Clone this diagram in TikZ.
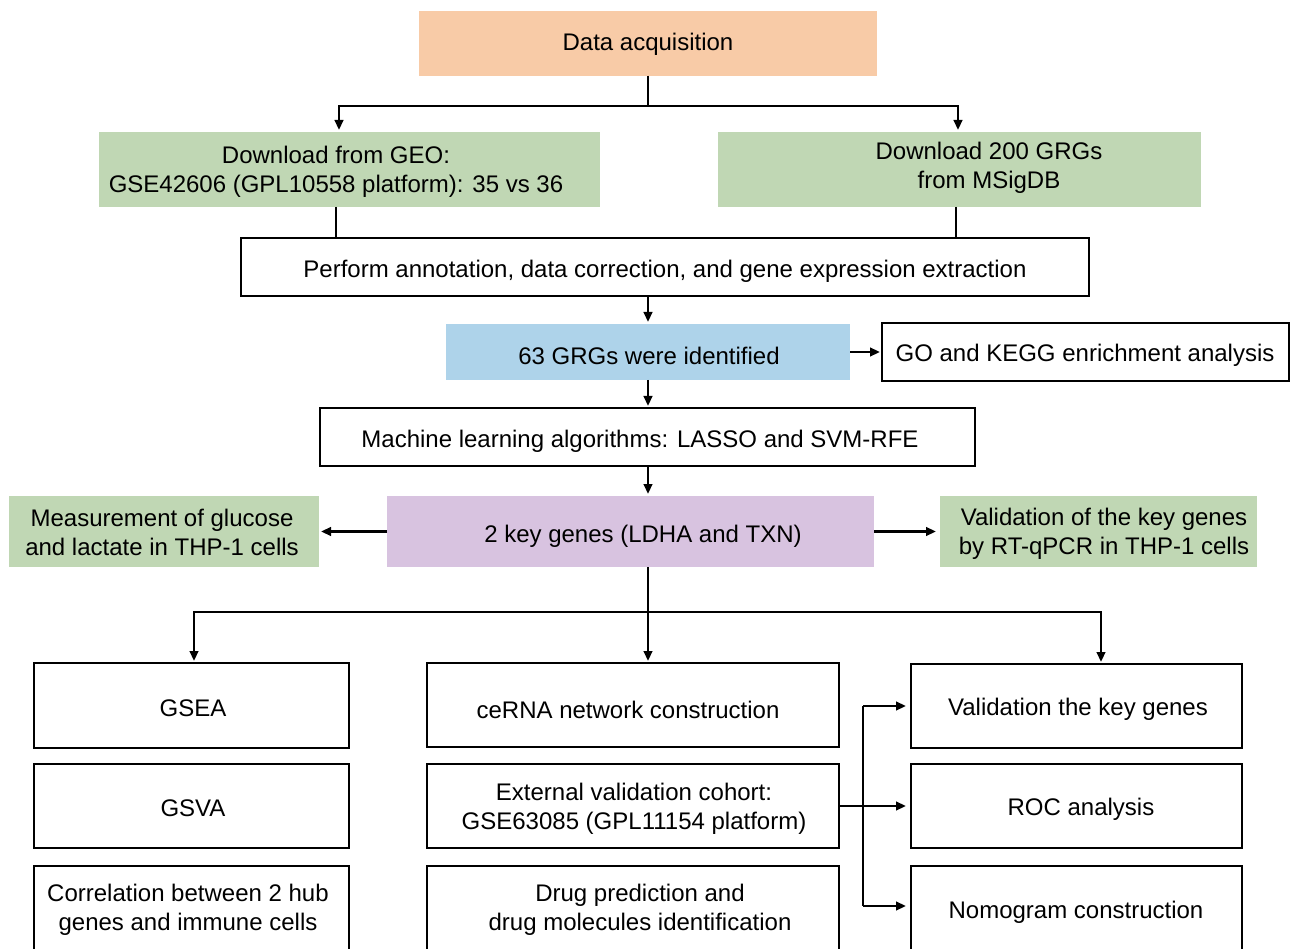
\documentclass[tikz,border=0pt]{standalone}
\usepackage{fontspec}
\setmainfont{Liberation Sans}
\usetikzlibrary{arrows.meta}
\definecolor{peach}{HTML}{F8CBA7}
\definecolor{sage}{HTML}{C0D7B4}
\definecolor{sky}{HTML}{AED3EA}
\definecolor{lilac}{HTML}{D8C3E0}
\tikzset{
  box/.style={rectangle, inner sep=0pt, outer sep=0pt},
  fbox/.style={box, draw=none},
  wbox/.style={box, draw=black, line width=2.6pt, fill=white},
  txt/.style={inner sep=0pt, align=center, yshift=-1.5pt, font=\fontsize{24}{29}\selectfont},
  conn/.style={draw=black, line width=2.7pt},
  arr/.style={conn, -{Triangle[length=10pt,width=8.5pt]}, shorten >=2pt},
}
\begin{document}
\begin{tikzpicture}[x=1pt,y=-1pt]
\useasboundingbox (0,0) rectangle (1293,949);
\clip (0,0) rectangle (1293,949);
\fill[white] (0,0) rectangle (1293,949);

% coloured boxes
\node[fbox, fill=peach, minimum width=458, minimum height=65] (data) at (648,43.5) {};
\node[fbox, fill=sage, minimum width=501, minimum height=75] (geo) at (349.5,169.5) {};
\node[fbox, fill=sage, minimum width=483, minimum height=75] (msig) at (959.5,169.5) {};
\node[wbox, minimum width=848, minimum height=58] (ann) at (665,267) {};
\node[fbox, fill=sky, minimum width=404, minimum height=56] (grg) at (648,352) {};
\node[wbox, minimum width=407, minimum height=58] (go) at (1085.5,352) {};
\node[wbox, minimum width=655, minimum height=58] (ml) at (647.5,437) {};
\node[fbox, fill=lilac, minimum width=487, minimum height=71] (key) at (630.5,531.5) {};
\node[fbox, fill=sage, minimum width=310, minimum height=71] (meas) at (164,531.5) {};
\node[fbox, fill=sage, minimum width=317, minimum height=71] (val) at (1098.5,531.5) {};

% bottom columns
\node[wbox, minimum width=315, minimum height=85] (l1) at (191.5,705.5) {};
\node[wbox, minimum width=315, minimum height=84] (l2) at (191.5,806) {};
\node[wbox, minimum width=315, minimum height=110] (l3) at (191.5,921) {};
\node[wbox, minimum width=412, minimum height=84] (m1) at (633,705) {};
\node[wbox, minimum width=412, minimum height=84] (m2) at (633,806) {};
\node[wbox, minimum width=412, minimum height=110] (m3) at (633,921) {};
\node[wbox, minimum width=331, minimum height=84] (r1) at (1076.5,706) {};
\node[wbox, minimum width=331, minimum height=84] (r2) at (1076.5,806) {};
\node[wbox, minimum width=331, minimum height=110] (r3) at (1076.5,921) {};

% texts
\node[txt] (tdata) at (648,43) {Data acquisition};
\node[txt] (tgeo) at (336,170) {Download from GEO:\\GSE42606 (GPL10558 platform): 35 vs 36};
\node[txt] (tmsig) at (989,166) {Download 200 GRGs\\from MSigDB};
\node[txt] (tann) at (665,270) {Perform annotation, data correction, and gene expression extraction};
\node[txt] (tgrg) at (649,354) {63 GRGs were identified};
\node[txt] (tgo) at (1085,354) {GO and KEGG enrichment analysis};
\node[txt] (tml) at (640,440) {Machine learning algorithms: LASSO and SVM-RFE};
\node[txt] (tkey) at (643,535) {2 key genes (LDHA and TXN)};
\node[txt] (tmeas) at (162,531) {Measurement of glucose\\and lactate in THP-1 cells};
\node[txt] (tval) at (1104,532) {Validation of the key genes\\by RT-qPCR in THP-1 cells};
\node[txt] (tl1) at (193,707) {GSEA};
\node[txt] (tl2) at (193,807) {GSVA};
\node[txt] (tl3) at (188,908) {Correlation between 2 hub\\genes and immune cells};
\node[txt] (tm1) at (628,708) {ceRNA network construction};
\node[txt] (tm2) at (634,807) {External validation cohort:\\GSE63085 (GPL11154 platform)};
\node[txt] (tm3) at (640,908) {Drug prediction and\\drug molecules identification};
\node[txt] (tr1) at (1078,708) {Validation the key genes};
\node[txt] (tr2) at (1081,808) {ROC analysis};
\node[txt] (tr3) at (1076,911) {Nomogram construction};

% connectors
\draw[arr] (data.south) -- ++(0,30) -| ([xshift=-10.5pt]geo.north);
\draw[arr] (data.south) -- ++(0,30) -| ([xshift=-1.5pt]msig.north);
\draw[conn] ([xshift=-13.5pt]geo.south) -- ([xshift=-13.5pt]geo.south |- ann.north);
\draw[conn] ([xshift=-3.5pt]msig.south) -- ([xshift=-3.5pt]msig.south |- ann.north);
\draw[arr] (ann.south -| grg.north) -- (grg.north);
\draw[arr] (grg.east) -- (go.west);
\draw[arr] (grg.south) -- (grg.south |- ml.north);
\draw[arr] (grg.south |- ml.south) -- (grg.south |- key.north);
\draw[arr] (key.west) -- (meas.east);
\draw[arr, shorten >=4pt] (key.east) -- (val.west);
\draw[arr] (grg.south |- key.south) -- ++(0,45) -| ([xshift=2.5pt]l1.north);
\draw[arr] (grg.south |- key.south) -- (grg.south |- m1.north);
\draw[arr] (grg.south |- key.south) -- ++(0,45) -| ([xshift=24.5pt]r1.north);
\coordinate (jt) at (863,706);
\coordinate (jb) at (863,906);
\draw[conn] (jt) -- (jb);
\draw[arr, shorten >=5pt] (m2.east) -- (r2.west);
\draw[arr, shorten >=5pt] (jt) -- (jt -| r1.west);
\draw[arr, shorten >=5pt] (jb) -- (jb -| r3.west);
\end{tikzpicture}
\end{document}
